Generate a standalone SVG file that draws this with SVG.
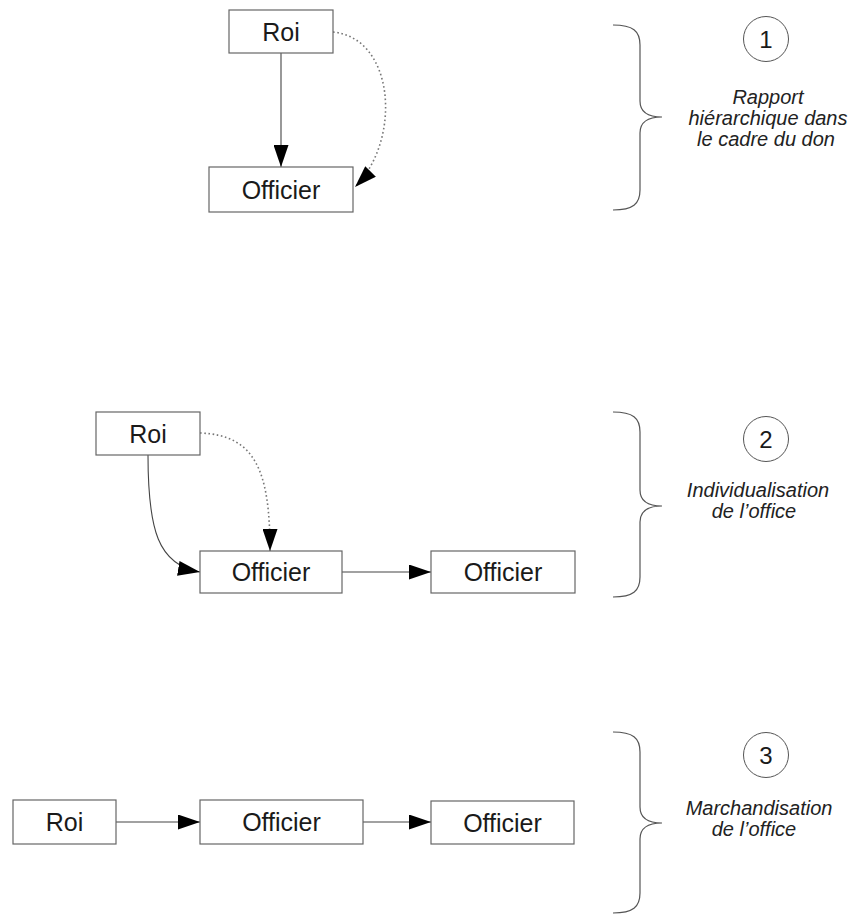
<svg xmlns="http://www.w3.org/2000/svg" width="854" height="915" viewBox="0 0 854 915">
<style>
.box{fill:#fff;stroke:#666;stroke-width:1.2}
.lbl{font-family:"Liberation Sans",Arial,sans-serif;font-size:25px;fill:#1a1a1a;text-anchor:middle}
.cap{font-family:"Liberation Sans",Arial,sans-serif;font-size:20px;font-style:italic;fill:#222;text-anchor:middle}
.num{font-family:"Liberation Sans",Arial,sans-serif;font-size:24px;fill:#1a1a1a;text-anchor:middle}
.circ{fill:none;stroke:#555;stroke-width:1}
.brace{fill:none;stroke:#555;stroke-width:1.2}
.solid{fill:none;stroke:#444;stroke-width:1.1}
.dot{fill:none;stroke:#777;stroke-width:1.6;stroke-dasharray:1.6,2.6}
</style>
<defs>
<marker id="ah" markerUnits="userSpaceOnUse" markerWidth="22" markerHeight="15" refX="22" refY="7.5" orient="auto" viewBox="0 0 22 15">
<path d="M0,0 L22,7.5 L0,15 z" fill="#000"/>
</marker>
</defs>

<g id="connectors">
<path class="solid" d="M281,53 L281,167" marker-end="url(#ah)"/>
<path class="dot" d="M333,32 C395,38 402,140 355,187" marker-end="url(#ah)"/>
<path class="solid" d="M148,455 C148,530 158,565 200,572" marker-end="url(#ah)"/>
<path class="dot" d="M200,433 C255,435 270,470 270,551" marker-end="url(#ah)"/>
<path class="solid" d="M342,572 L431,572" marker-end="url(#ah)"/>
<path class="solid" d="M116,822 L200,822" marker-end="url(#ah)"/>
<path class="solid" d="M363,822 L431,822" marker-end="url(#ah)"/>
</g>

<g id="s1-roi"><rect class="box" x="229" y="10" width="104" height="43"/><text class="lbl" x="281" y="40.5">Roi</text></g>
<g id="s1-officier"><rect class="box" x="209" y="167" width="144" height="45"/><text class="lbl" x="281" y="198.5">Officier</text></g>

<g id="s2-roi"><rect class="box" x="96" y="412" width="104" height="43"/><text class="lbl" x="148" y="442.5">Roi</text></g>
<g id="s2-officier1"><rect class="box" x="200" y="551" width="142" height="42"/><text class="lbl" x="271" y="581">Officier</text></g>
<g id="s2-officier2"><rect class="box" x="431" y="551" width="144" height="42"/><text class="lbl" x="503" y="581">Officier</text></g>

<g id="s3-roi"><rect class="box" x="13" y="800" width="103" height="44"/><text class="lbl" x="64.5" y="831">Roi</text></g>
<g id="s3-officier1"><rect class="box" x="200" y="800" width="163" height="44"/><text class="lbl" x="281.5" y="831">Officier</text></g>
<g id="s3-officier2"><rect class="box" x="431" y="801" width="143" height="43"/><text class="lbl" x="502.5" y="831.5">Officier</text></g>

<g id="brace1">
<path class="brace" d="M613,25 C633,25 640,31 640,45 L640,101 C640,112 648,117 662,117 C648,117 640,122 640,133 L640,190 C640,204 633,210 613,210"/>
</g>
<g id="label1">
<circle class="circ" cx="766" cy="39" r="22.5"/>
<text class="num" x="766" y="48">1</text>
<text class="cap" x="768" y="104">Rapport</text>
<text class="cap" x="768" y="125">hiérarchique dans</text>
<text class="cap" x="766" y="146">le cadre du don</text>
</g>

<g id="brace2">
<path class="brace" d="M613,412 C633,412 640,418 640,432 L640,490 C640,501 648,506 662,506 C648,506 640,511 640,522 L640,577 C640,591 633,597 613,597"/>
</g>
<g id="label2">
<circle class="circ" cx="766" cy="439" r="22.5"/>
<text class="num" x="766" y="448">2</text>
<text class="cap" x="758" y="497">Individualisation</text>
<text class="cap" x="754" y="518">de l’office</text>
</g>

<g id="brace3">
<path class="brace" d="M613,732 C633,732 640,738 640,752 L640,807 C640,818 648,823 662,823 C648,823 640,828 640,839 L640,893 C640,907 633,913 613,913"/>
</g>
<g id="label3">
<circle class="circ" cx="766" cy="755" r="22.5"/>
<text class="num" x="766" y="764">3</text>
<text class="cap" x="759" y="815">Marchandisation</text>
<text class="cap" x="754" y="836">de l’office</text>
</g>
</svg>
